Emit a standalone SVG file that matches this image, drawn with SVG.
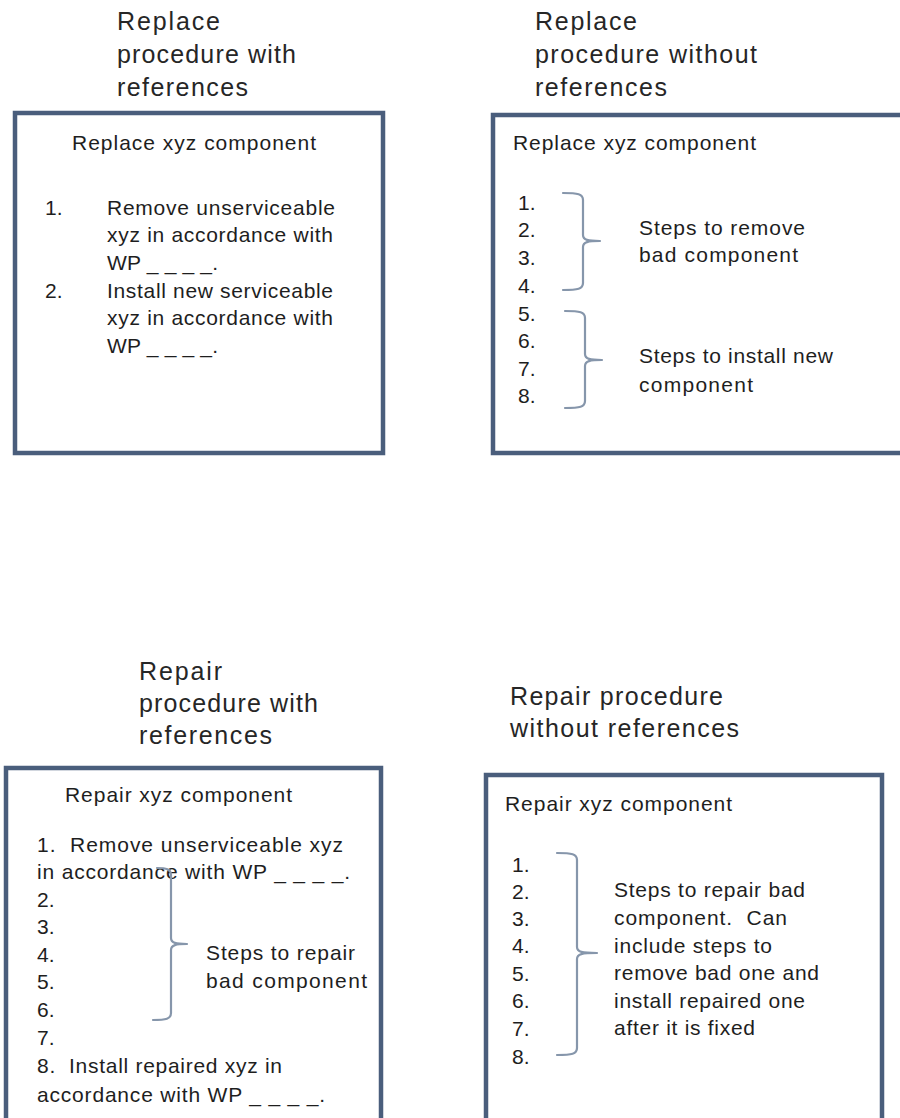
<svg xmlns="http://www.w3.org/2000/svg" width="900" height="1118" viewBox="0 0 900 1118">
<style>
text { font-family: "Liberation Sans", Arial, sans-serif; fill: #1e1e1e; white-space: pre; }
.title { font-size: 25px; fill: #262626; }
.body { font-size: 21px; }
.box { fill: #ffffff; stroke: #4a5e7c; stroke-width: 4.5; }
.brace { fill: none; stroke: #8696ab; stroke-width: 2.2; stroke-linecap: round; stroke-linejoin: round; }
</style>
<rect x="0" y="0" width="900" height="1118" fill="#ffffff"/>

<g id="replace-with-refs">
  <text class="title" x="117" y="30" textLength="103" lengthAdjust="spacing">Replace</text>
  <text class="title" x="117" y="63" textLength="179" lengthAdjust="spacing">procedure with</text>
  <text class="title" x="117" y="96" textLength="131" lengthAdjust="spacing">references</text>
  <rect class="box" x="15" y="113" width="368" height="340"/>
  <text class="body" x="72" y="150" textLength="244" lengthAdjust="spacing">Replace xyz component</text>
  <text class="body" x="45" y="215">1.</text>
  <text class="body" x="107" y="215" textLength="228" lengthAdjust="spacing">Remove unserviceable</text>
  <text class="body" x="107" y="242" textLength="226" lengthAdjust="spacing">xyz in accordance with</text>
  <text class="body" x="107" y="270" textLength="111" lengthAdjust="spacing">WP _ _ _ _.</text>
  <text class="body" x="45" y="298">2.</text>
  <text class="body" x="107" y="298" textLength="226" lengthAdjust="spacing">Install new serviceable</text>
  <text class="body" x="107" y="325" textLength="226" lengthAdjust="spacing">xyz in accordance with</text>
  <text class="body" x="107" y="353" textLength="111" lengthAdjust="spacing">WP _ _ _ _.</text>
</g>

<g id="replace-without-refs">
  <text class="title" x="535" y="30" textLength="102" lengthAdjust="spacing">Replace</text>
  <text class="title" x="535" y="63" textLength="222" lengthAdjust="spacing">procedure without</text>
  <text class="title" x="535" y="96" textLength="132" lengthAdjust="spacing">references</text>
  <rect class="box" x="493" y="115" width="412" height="338"/>
  <text class="body" x="513" y="150" textLength="243" lengthAdjust="spacing">Replace xyz component</text>
  <text class="body" x="518" y="210">1.</text>
  <text class="body" x="518" y="237">2.</text>
  <text class="body" x="518" y="265">3.</text>
  <text class="body" x="518" y="293">4.</text>
  <text class="body" x="518" y="321">5.</text>
  <text class="body" x="518" y="348">6.</text>
  <text class="body" x="518" y="376">7.</text>
  <text class="body" x="518" y="403">8.</text>
  <text class="body" x="639" y="235" textLength="166" lengthAdjust="spacing">Steps to remove</text>
  <text class="body" x="639" y="262" textLength="159" lengthAdjust="spacing">bad component</text>
  <text class="body" x="639" y="363" textLength="194" lengthAdjust="spacing">Steps to install new</text>
  <text class="body" x="639" y="392" textLength="114" lengthAdjust="spacing">component</text>
</g>

<g id="repair-with-refs">
  <text class="title" x="139" y="680" textLength="83" lengthAdjust="spacing">Repair</text>
  <text class="title" x="139" y="712" textLength="179" lengthAdjust="spacing">procedure with</text>
  <text class="title" x="139" y="744" textLength="133" lengthAdjust="spacing">references</text>
  <rect class="box" x="6" y="768" width="375" height="354"/>
  <text class="body" x="65" y="802" textLength="227" lengthAdjust="spacing">Repair xyz component</text>
  <text class="body" x="37" y="852" textLength="306" lengthAdjust="spacing">1.  Remove unserviceable xyz</text>
  <text class="body" x="37" y="879" textLength="313" lengthAdjust="spacing">in accordance with WP _ _ _ _.</text>
  <text class="body" x="37" y="907">2.</text>
  <text class="body" x="37" y="934">3.</text>
  <text class="body" x="37" y="962">4.</text>
  <text class="body" x="37" y="989">5.</text>
  <text class="body" x="37" y="1017">6.</text>
  <text class="body" x="37" y="1045">7.</text>
  <text class="body" x="37" y="1073" textLength="245" lengthAdjust="spacing">8.  Install repaired xyz in</text>
  <text class="body" x="37" y="1102" textLength="288" lengthAdjust="spacing">accordance with WP _ _ _ _.</text>
  <text class="body" x="206" y="960" textLength="149" lengthAdjust="spacing">Steps to repair</text>
  <text class="body" x="206" y="988" textLength="161" lengthAdjust="spacing">bad component</text>
</g>

<g id="repair-without-refs">
  <text class="title" x="510" y="705" textLength="213" lengthAdjust="spacing">Repair procedure</text>
  <text class="title" x="510" y="737" textLength="229" lengthAdjust="spacing">without references</text>
  <rect class="box" x="486" y="775" width="396" height="347"/>
  <text class="body" x="505" y="811" textLength="227" lengthAdjust="spacing">Repair xyz component</text>
  <text class="body" x="512" y="872">1.</text>
  <text class="body" x="512" y="899">2.</text>
  <text class="body" x="512" y="926">3.</text>
  <text class="body" x="512" y="953">4.</text>
  <text class="body" x="512" y="981">5.</text>
  <text class="body" x="512" y="1008">6.</text>
  <text class="body" x="512" y="1036">7.</text>
  <text class="body" x="512" y="1064">8.</text>
  <text class="body" x="614" y="897" textLength="191" lengthAdjust="spacing">Steps to repair bad</text>
  <text class="body" x="614" y="925" textLength="173" lengthAdjust="spacing">component.  Can</text>
  <text class="body" x="614" y="953" textLength="158" lengthAdjust="spacing">include steps to</text>
  <text class="body" x="614" y="980" textLength="205" lengthAdjust="spacing">remove bad one and</text>
  <text class="body" x="614" y="1008" textLength="191" lengthAdjust="spacing">install repaired one</text>
  <text class="body" x="614" y="1035" textLength="141" lengthAdjust="spacing">after it is fixed</text>
</g>

<g id="brackets">
  <path class="brace" d="M563,193 C578,193 583,194 583,200 L583,235 C583,240 588,241 600,241 C588,241 583,242 583,247 L583,283 C583,289 578,290 563,290"/>
  <path class="brace" d="M565,311 C580,311 585,312 585,318 L585,354 C585,359 590,360 602,360 C590,360 585,361 585,366 L585,401 C585,407 580,408 565,408"/>
  <path class="brace" d="M157,868 C166,868 171,869 171,875 L171,938 C171,943 176,944 187,944 C176,944 171,945 171,950 L171,1013 C171,1019 166,1020 153,1020"/>
  <path class="brace" d="M557,853 C572,853 577,854 577,860 L577,947 C577,952 582,953 597,953 C582,953 577,954 577,959 L577,1048 C577,1054 572,1055 557,1055"/>
</g>
</svg>
